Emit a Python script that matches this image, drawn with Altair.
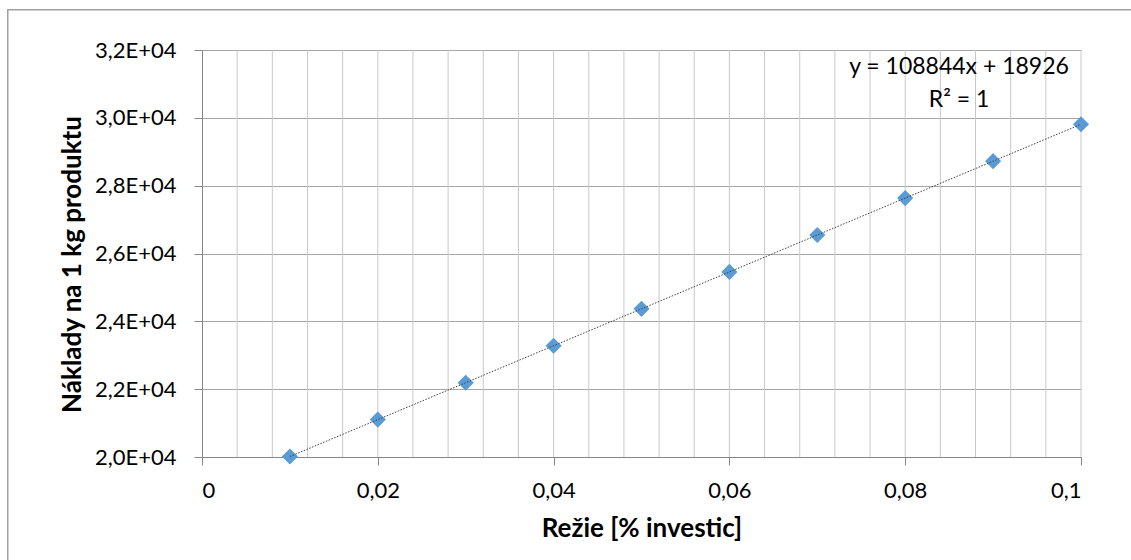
import altair as alt
import pandas as pd

# Measured overhead share vs. production cost per kg
rezie = [0.01, 0.02, 0.03, 0.04, 0.05, 0.06, 0.07, 0.08, 0.09, 0.10]
naklady = [20014, 21103, 22191, 23280, 24368, 25457, 26545, 27634, 28722, 29811]

# Linear trendline coefficients (shown in the annotation)
slope = 108844
intercept = 18926
trend_x = [0.01, 0.10]

x_ticks = [0, 0.02, 0.04, 0.06, 0.08, 0.1]
y_ticks = [20000, 22000, 24000, 26000, 28000, 30000, 32000]
x_minor_grid = [round(0.004 * i, 3) for i in range(1, 26)]

FONT = "Lato"
W, H = 879, 407
PAD = {"left": 202, "top": 50, "right": 50, "bottom": 103}
AXIS_GRAY = "#868686"
FRAME_GRAY = "#a0a0a0"

points_df = pd.DataFrame({"x": rezie, "y": naklady})
trend_df = pd.DataFrame({"x": trend_x, "y": [slope * v + intercept for v in trend_x]})
grid_df = pd.DataFrame({"x": x_minor_grid})

x_scale = alt.Scale(domain=[0, 0.1], nice=False, zero=False)
y_scale = alt.Scale(domain=[20000, 32000], nice=False, zero=False)

x_axis = alt.Axis(
    title="Režie [% investic]",
    values=x_ticks,
    labelExpr="replace(toString(datum.value), '.', ',')",
    grid=False,
    tickSize=8,
    tickColor=AXIS_GRAY,
    domainColor=AXIS_GRAY,
    labelPadding=15,
    titlePadding=14,
)

y_axis = alt.Axis(
    title="Náklady na 1 kg produktu",
    values=y_ticks,
    labelExpr="replace(format(datum.value / 10000, '.1f'), '.', ',') + 'E+04'",
    grid=True,
    gridColor="#a6a6a6",
    tickSize=8,
    tickColor=AXIS_GRAY,
    domainColor=AXIS_GRAY,
    labelPadding=18,
    titleX=-130,
    titleY=214,
    titleAngle=270,
    titleAlign="center",
    titleBaseline="middle",
)

# light vertical gridlines every 0.004
vgrid = alt.Chart(grid_df).mark_rule(color="#c8c8c8", strokeWidth=1).encode(
    x=alt.X("x:Q", scale=x_scale, axis=x_axis),
    y=alt.value(0),
    y2=alt.value(H),
)

points = alt.Chart(points_df).mark_point(
    shape="diamond", filled=True, size=260, color="#5B9BD5", opacity=1
).encode(
    x=alt.X("x:Q", scale=x_scale, axis=x_axis),
    y=alt.Y("y:Q", scale=y_scale, axis=y_axis),
)

trend = alt.Chart(trend_df).mark_line(
    color="#404040", strokeWidth=1, strokeDash=[1.5, 1.5]
).encode(x=alt.X("x:Q", scale=x_scale), y=alt.Y("y:Q", scale=y_scale))

eq_df = pd.DataFrame({"t": [f"y = {slope}x + {intercept}", "R² = 1"], "dy": [17, 50]})
equation = alt.Chart(eq_df).mark_text(
    font=FONT, fontSize=23, color="#000000", align="center", baseline="middle"
).encode(text="t:N", x=alt.value(757), y=alt.Y("dy:Q", scale=None))

# outer chart frame: thin filled bars along the top and left edges
frame_top = alt.Chart(pd.DataFrame({"k": [0]})).mark_rect(
    color=FRAME_GRAY, strokeWidth=0
).encode(x=alt.value(-194), x2=alt.value(W + PAD["right"]), y=alt.value(-41), y2=alt.value(-39.5))
frame_left = alt.Chart(pd.DataFrame({"k": [0]})).mark_rect(
    color=FRAME_GRAY, strokeWidth=0
).encode(x=alt.value(-195), x2=alt.value(-193.5), y=alt.value(-41), y2=alt.value(H + PAD["bottom"]))

chart = (
    alt.layer(vgrid, points, trend, equation, frame_top, frame_left)
    .properties(
        width=W,
        height=H,
        autosize=alt.AutoSizeParams(type="none"),
        padding=PAD,
        background="white",
    )
    .configure_view(stroke=None)
    .configure_axis(
        labelFont=FONT,
        labelFontSize=22,
        labelColor="#000000",
        titleFont=FONT,
        titleFontSize=26,
        titleFontWeight="bold",
        titleColor="#000000",
    )
)

chart.save("out.html", embed_options={"renderer": "svg", "actions": False})
